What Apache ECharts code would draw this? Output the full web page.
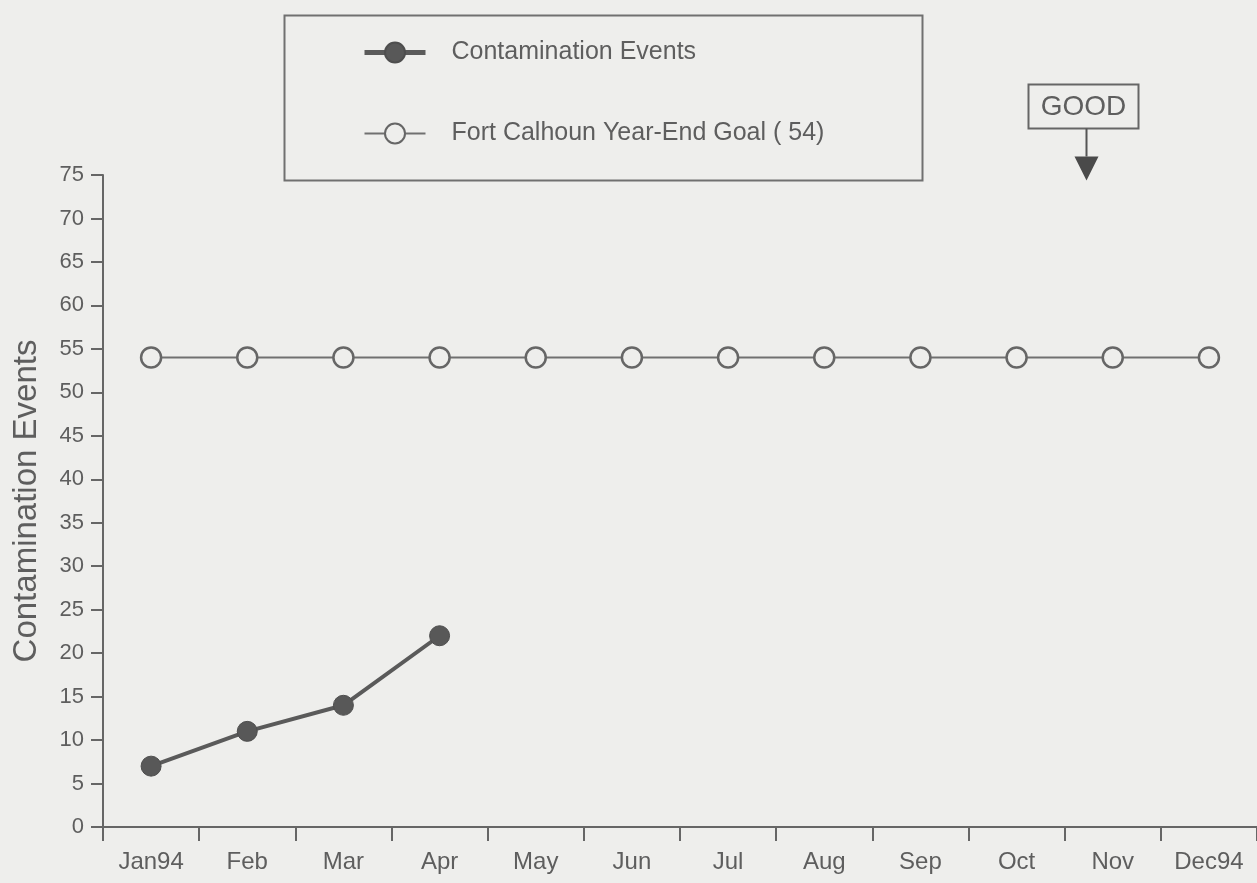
<!DOCTYPE html>
<html>
<head>
<meta charset="utf-8">
<script src="https://cdn.jsdelivr.net/npm/echarts@6/dist/echarts.min.js"></script>
<style>
  html, body { margin: 0; padding: 0; background: #eeeeec; }
  #chart { width: 1257px; height: 883px; }
</style>
</head>
<body>
<div id="chart"></div>
<script>
const months = ['Jan94', 'Feb', 'Mar', 'Apr', 'May', 'Jun', 'Jul', 'Aug', 'Sep', 'Oct', 'Nov', 'Dec94'];
const contaminationEvents = [7, 11, 14, 22, null, null, null, null, null, null, null, null];
const yearEndGoal = [54, 54, 54, 54, 54, 54, 54, 54, 54, 54, 54, 54];
const seriesNames = ['Contamination Events', 'Fort Calhoun Year-End Goal ( 54)'];
const yAxisTitle = 'Contamination Events';

const TEXT = '#5e5e5e';
const AXIS = '#666666';
const BG = '#eeeeec';
const FONT = '"Liberation Sans", Arial, Helvetica, sans-serif';

const chart = echarts.init(document.getElementById('chart'), null, { renderer: 'canvas' });
chart.setOption({
  backgroundColor: BG,
  animation: false,
  textStyle: { fontFamily: FONT },
  grid: { left: 103, right: -2, top: 175, bottom: 56, containLabel: false },
  legend: {
    orient: 'vertical',
    left: 362,
    top: 40,
    padding: 0,
    itemGap: 56,
    itemWidth: 61,
    itemHeight: 25,
    data: [
      { name: seriesNames[0], lineStyle: { width: 5, color: '#5a5a5a' } },
      { name: seriesNames[1], lineStyle: { width: 2, color: '#707070' } }
    ],
    textStyle: { fontSize: 25, color: TEXT, fontFamily: FONT, padding: [0, 0, 0, 21] }
  },
  xAxis: {
    type: 'category',
    data: months,
    boundaryGap: true,
    axisLine: { lineStyle: { color: AXIS, width: 2 } },
    axisTick: { show: true, length: 14, alignWithLabel: false, lineStyle: { color: AXIS, width: 2 } },
    axisLabel: { fontSize: 24, color: TEXT, margin: 23, interval: 0, fontFamily: FONT },
    splitLine: { show: false }
  },
  yAxis: {
    type: 'value',
    min: 0,
    max: 75,
    interval: 5,
    name: yAxisTitle,
    nameLocation: 'middle',
    nameGap: 60,
    nameTextStyle: { fontSize: 33, color: TEXT, fontFamily: FONT },
    axisLine: { show: true, lineStyle: { color: AXIS, width: 2 } },
    axisTick: { show: true, length: 12, lineStyle: { color: AXIS, width: 2 } },
    axisLabel: { fontSize: 22, color: TEXT, margin: 19, fontFamily: FONT },
    splitLine: { show: false }
  },
  series: [
    {
      name: seriesNames[0],
      type: 'line',
      data: contaminationEvents,
      symbol: 'circle',
      symbolSize: 20,
      showAllSymbol: true,
      lineStyle: { color: '#5a5a5a', width: 4 },
      itemStyle: { color: '#585858', borderColor: '#4e4e4e', borderWidth: 1 },
      z: 3
    },
    {
      name: seriesNames[1],
      type: 'line',
      data: yearEndGoal,
      symbol: 'circle',
      symbolSize: 20,
      showAllSymbol: true,
      lineStyle: { color: '#707070', width: 2 },
      itemStyle: { color: BG, borderColor: '#666666', borderWidth: 2.5 },
      z: 2
    }
  ],
  graphic: [
    {
      type: 'rect',
      left: 282, top: 13,
      shape: { width: 638, height: 165 },
      style: { fill: 'none', stroke: '#707070', lineWidth: 2 },
      z: 1
    },
    {
      type: 'group',
      left: 1026, top: 82,
      children: [
        { type: 'rect', shape: { x: 0, y: 0, width: 110, height: 44 },
          style: { fill: 'none', stroke: '#666', lineWidth: 2 } },
        { type: 'text', x: 55, y: 23,
          style: { text: 'GOOD', fontSize: 28, fill: TEXT, fontFamily: FONT, align: 'center', verticalAlign: 'middle' } },
        { type: 'line', shape: { x1: 58, y1: 44, x2: 58, y2: 72 },
          style: { stroke: '#555', lineWidth: 2 } },
        { type: 'polygon', shape: { points: [[46, 72], [70, 72], [58, 96]] },
          style: { fill: '#4a4a4a' } }
      ]
    }
  ]
});
</script>
</body>
</html>
